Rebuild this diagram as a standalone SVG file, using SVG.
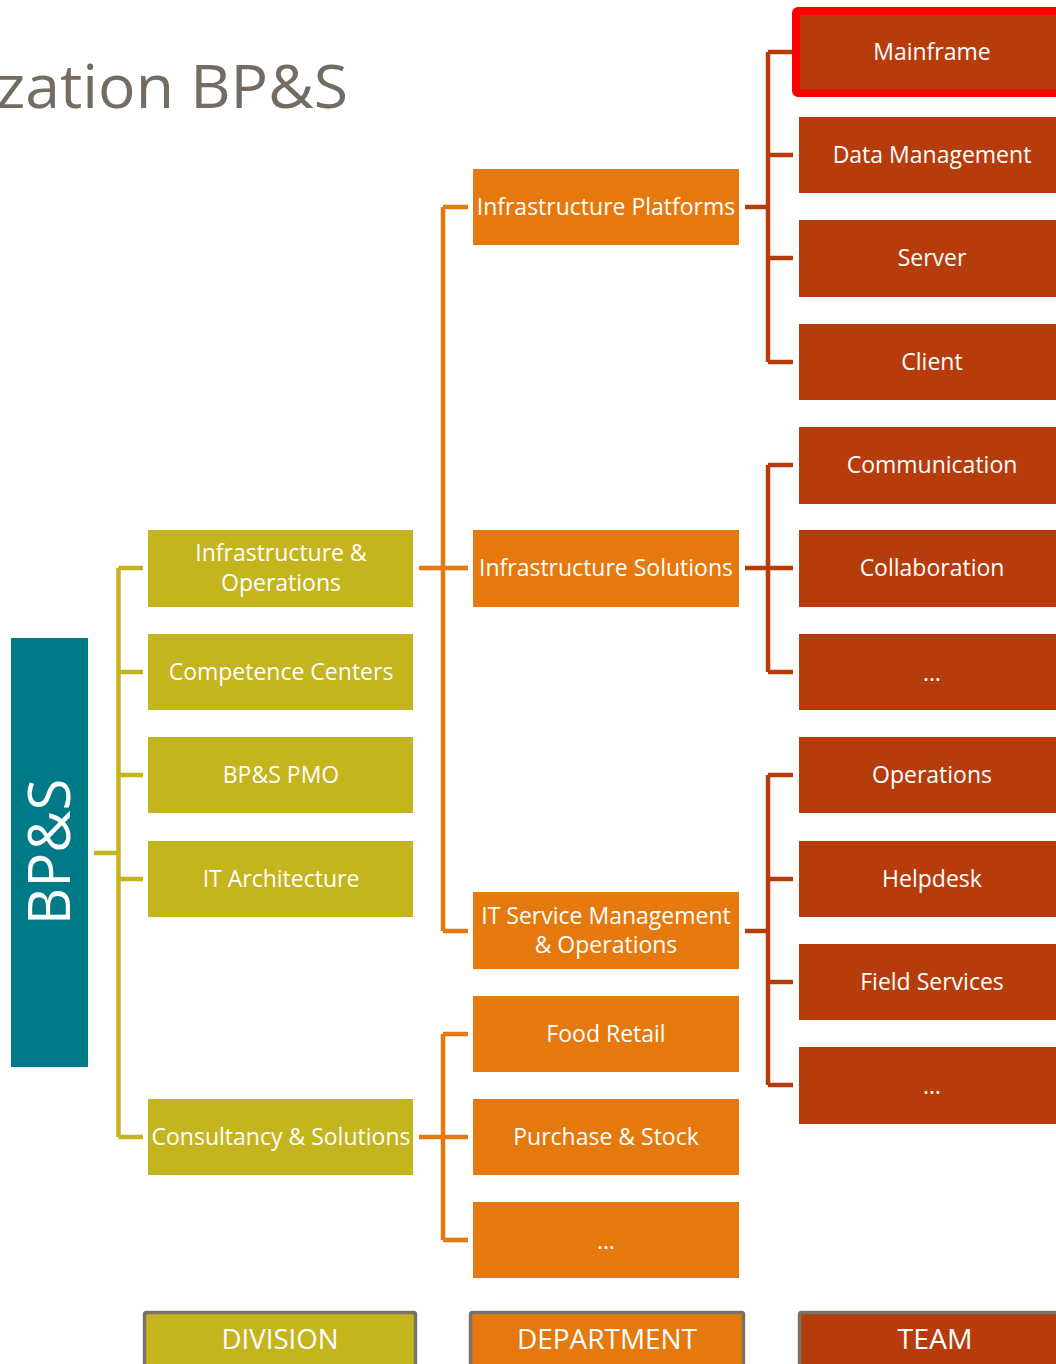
<svg xmlns="http://www.w3.org/2000/svg" width="1056" height="1364" viewBox="0 0 1056 1364">
<style>
.div{fill:#C4B41E}
.dep{fill:#E6790D}
.team{fill:#B73C0C}
.t{font-family:"Open Sans","Noto Sans",sans-serif;font-size:23px;fill:#FFFFFF;text-anchor:middle}
.cd{stroke:#C4B41E;stroke-width:4.5;fill:none}
.cp{stroke:#E6790D;stroke-width:4.5;fill:none}
.ct{stroke:#B73C0C;stroke-width:4.5;fill:none}
.lg{stroke:#7B7166;stroke-width:3.5}
.lt{font-family:"Open Sans","Noto Sans",sans-serif;font-size:28px;fill:#FFFFFF;text-anchor:middle}
</style>
<rect width="1056" height="1364" fill="#FFFFFF"/>
<text x="348" y="108" font-family="'Open Sans','Noto Sans',sans-serif" font-size="61" fill="#756C61" text-anchor="end" textLength="352" lengthAdjust="spacingAndGlyphs">zation BP&amp;S</text>

<g id="connectors">
  <path class="cd" d="M94 853 H118.5 M118.5 568 V1137 M118.5 568 H143 M118.5 672 H143 M118.5 775 H143 M118.5 879 H143 M118.5 1137 H143"/>
  <path class="cp" d="M419 568 H443 M443 207 V931 M443 207 H468 M443 568 H468 M443 931 H468"/>
  <path class="cp" d="M419 1137 H443 M443 1034 V1240 M443 1034 H468 M443 1137 H468 M443 1240 H468"/>
  <path class="ct" d="M745 207 H768 M768 52 V362 M768 52 H793 M768 155 H793 M768 258 H793 M768 362 H793"/>
  <path class="ct" d="M745 568 H768 M768 465 V672 M768 465 H793 M768 568 H793 M768 672 H793"/>
  <path class="ct" d="M745 931 H768 M768 775 V1085 M768 775 H793 M768 879 H793 M768 982 H793 M768 1085 H793"/>
</g>

<g id="bps">
  <rect x="11" y="638" width="77" height="429" fill="#007A87"/>
  <text transform="translate(70 852) rotate(-90)" font-family="'Open Sans','Noto Sans',sans-serif" font-size="58" fill="#FFFFFF" text-anchor="middle">BP&amp;S</text>
</g>

<g id="div-io"><rect class="div" x="148" y="530" width="265" height="77"/><text class="t" x="281" y="561">Infrastructure &amp;</text><text class="t" x="281" y="591">Operations</text></g>
<g id="div-cc"><rect class="div" x="148" y="634" width="265" height="76"/><text class="t" x="281" y="680">Competence Centers</text></g>
<g id="div-pmo"><rect class="div" x="148" y="737" width="265" height="76"/><text class="t" x="281" y="783">BP&amp;S PMO</text></g>
<g id="div-ita"><rect class="div" x="148" y="841" width="265" height="76"/><text class="t" x="281" y="887">IT Architecture</text></g>
<g id="div-cs"><rect class="div" x="148" y="1099" width="265" height="76"/><text class="t" x="281" y="1145">Consultancy &amp; Solutions</text></g>

<g id="dep-ip"><rect class="dep" x="473" y="169" width="266" height="76"/><text class="t" x="606" y="215">Infrastructure Platforms</text></g>
<g id="dep-is"><rect class="dep" x="473" y="530" width="266" height="77"/><text class="t" x="606" y="576">Infrastructure Solutions</text></g>
<g id="dep-itsm"><rect class="dep" x="473" y="892" width="266" height="77"/><text class="t" x="606" y="924">IT Service Management</text><text class="t" x="606" y="953">&amp; Operations</text></g>
<g id="dep-fr"><rect class="dep" x="473" y="996" width="266" height="76"/><text class="t" x="606" y="1042">Food Retail</text></g>
<g id="dep-ps"><rect class="dep" x="473" y="1099" width="266" height="76"/><text class="t" x="606" y="1145">Purchase &amp; Stock</text></g>
<g id="dep-more"><rect class="dep" x="473" y="1202" width="266" height="76"/><text class="t" x="606" y="1249">…</text></g>

<g id="team-mainframe"><rect class="team" x="796" y="11" width="272" height="82" rx="2" stroke="#FF0000" stroke-width="8"/><text class="t" x="932" y="60">Mainframe</text></g>
<g id="team-dm"><rect class="team" x="799" y="117" width="266" height="76"/><text class="t" x="932" y="163">Data Management</text></g>
<g id="team-server"><rect class="team" x="799" y="220" width="266" height="77"/><text class="t" x="932" y="266">Server</text></g>
<g id="team-client"><rect class="team" x="799" y="324" width="266" height="76"/><text class="t" x="932" y="370">Client</text></g>
<g id="team-comm"><rect class="team" x="799" y="427" width="266" height="77"/><text class="t" x="932" y="473">Communication</text></g>
<g id="team-collab"><rect class="team" x="799" y="530" width="266" height="77"/><text class="t" x="932" y="576">Collaboration</text></g>
<g id="team-more1"><rect class="team" x="799" y="634" width="266" height="76"/><text class="t" x="932" y="681">…</text></g>
<g id="team-ops"><rect class="team" x="799" y="737" width="266" height="76"/><text class="t" x="932" y="783">Operations</text></g>
<g id="team-helpdesk"><rect class="team" x="799" y="841" width="266" height="76"/><text class="t" x="932" y="887">Helpdesk</text></g>
<g id="team-fs"><rect class="team" x="799" y="944" width="266" height="76"/><text class="t" x="932" y="990">Field Services</text></g>
<g id="team-more2"><rect class="team" x="799" y="1047" width="266" height="77"/><text class="t" x="932" y="1094">…</text></g>

<g id="legend-division"><rect class="div lg" x="144.5" y="1312.5" width="271" height="70" rx="2"/><text class="lt" x="280" y="1349" textLength="117" lengthAdjust="spacingAndGlyphs">DIVISION</text></g>
<g id="legend-department"><rect class="dep lg" x="470.5" y="1312.5" width="273" height="70" rx="2"/><text class="lt" x="607" y="1349" textLength="180" lengthAdjust="spacingAndGlyphs">DEPARTMENT</text></g>
<g id="legend-team"><rect class="team lg" x="799.5" y="1312.5" width="273" height="70" rx="2"/><text class="lt" x="935" y="1349" textLength="75" lengthAdjust="spacingAndGlyphs">TEAM</text></g>
</svg>
